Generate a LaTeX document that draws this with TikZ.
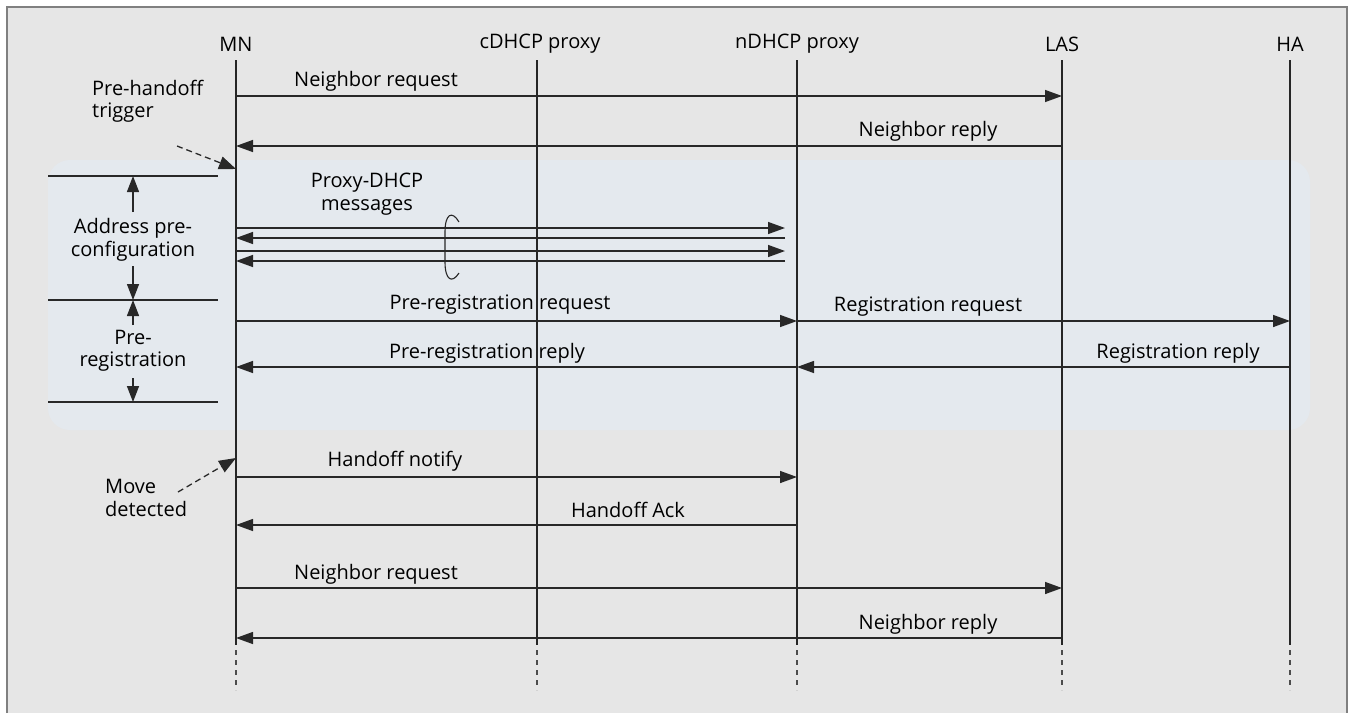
\documentclass[tikz,border=0pt]{standalone}
\usepackage{fontspec}
\setmainfont{Open Sans}
\usetikzlibrary{arrows.meta}
\definecolor{bggray}{RGB}{230,230,230}
\definecolor{shadecol}{RGB}{228,233,238}
\definecolor{framegray}{RGB}{128,128,128}
\definecolor{linegray}{RGB}{40,40,40}
\begin{document}
\begin{tikzpicture}[x=1pt,y=-1pt,
  lbl/.style={font=\fontsize{20}{22.5}\selectfont, inner sep=0pt, text=black},
  lbl2/.style={lbl, align=center},
  life/.style={line width=1.1pt, draw=black!85},
  lifedash/.style={line width=1.1pt, draw=black!70, dash pattern=on 5pt off 5pt},
  tip/.style={-{Triangle[length=17pt,width=12pt]}},
  msg/.style={line width=1.4pt, draw=linegray, tip},
  trig/.style={line width=1.3pt, draw=linegray, dash pattern=on 6pt off 4pt, -{Triangle[length=17pt,width=13pt]}},
  sep/.style={line width=1.1pt, draw=linegray},
  span/.style={line width=1.4pt, draw=linegray, -{Triangle[length=16pt,width=12pt]}}]
\useasboundingbox (0,0) rectangle (1351,713);
\fill[white] (0,0) rectangle (1351,713);
\fill[bggray] (7,7) rectangle (1347,713);
\draw[framegray, line width=1.5pt] (7,713) -- (7,7) -- (1347,7) -- (1347,713);
% shaded region
\fill[shadecol, rounded corners=22pt] (48,160) rectangle (1310,430);
% heads
\node[lbl] (MN) at (236,44) {MN};
\node[lbl] (cD) at (540,44) {cDHCP proxy};
\node[lbl] (nD) at (797,44) {nDHCP proxy};
\node[lbl] (LAS) at (1062,44) {LAS};
\node[lbl] (HA) at (1290,44) {HA};
\coordinate (cDx) at (537,44);
% lifelines
\foreach \n in {MN,cDx,nD,LAS,HA}{
  \draw[life] (\n |- 0,60) -- (\n |- 0,645);
  \draw[lifedash] (\n |- 0,650) -- (\n |- 0,690);
}
% messages
\draw[msg] (MN |- 0,96) -- (LAS |- 0,96);
\node[lbl] (l1) at (376,81) {Neighbor request};
\draw[msg] (LAS |- 0,146) -- (MN |- 0,146);
\node[lbl] (l2) at (928,131) {Neighbor reply};
% proxy dhcp
\node[lbl2] (l3) at (367,194) {Proxy-DHCP\\messages};
\coordinate (px) at (785,0);
\draw[msg] (MN |- 0,228) -- (px |- 0,228);
\draw[msg] (px |- 0,238) -- (MN |- 0,238);
\draw[msg] (MN |- 0,251) -- (px |- 0,251);
\draw[msg] (px |- 0,261) -- (MN |- 0,261);
\draw[line width=1.1pt, linegray] (459,222) .. controls (452,210) and (445,214) .. (445,232) -- (445,262) .. controls (445,280) and (452,284) .. (459,273);
% registration
\draw[msg] (MN |- 0,321) -- (nD |- 0,321);
\node[lbl] (l4) at (500,305) {Pre-registration request};
\draw[msg] (nD |- 0,321) -- (HA |- 0,321);
\node[lbl] (l5) at (928,307) {Registration request};
\draw[msg] (HA |- 0,367) -- (nD |- 0,367);
\node[lbl] (l6) at (1178,353) {Registration reply};
\draw[msg] (nD |- 0,367) -- (MN |- 0,367);
\node[lbl] (l7) at (487,353) {Pre-registration reply};
% handoff
\draw[msg] (MN |- 0,477) -- (nD |- 0,477);
\node[lbl] (l8) at (395,461) {Handoff notify};
\draw[msg] (nD |- 0,525) -- (MN |- 0,525);
\node[lbl] (l9) at (628,510) {Handoff Ack};
\draw[msg] (MN |- 0,588) -- (LAS |- 0,588);
\node[lbl] (l10) at (376,574) {Neighbor request};
\draw[msg] (LAS |- 0,638) -- (MN |- 0,638);
\node[lbl] (l11) at (928,624) {Neighbor reply};
% triggers
\node[lbl, align=left, anchor=west] (pt) at (92,101) {Pre-handoff\\trigger};
\coordinate (ptA) at (177,146);
\draw[trig] (ptA) -- (MN |- 0,169);
\node[lbl, align=left, anchor=west] (md) at (105,498) {Move\\detected};
\coordinate (mdA) at (178,492);
\draw[trig] (mdA) -- (MN |- 0,458);
% left phases
\draw[sep] (48,176) -- (218,176);
\draw[sep] (48,300) -- (218,300);
\draw[sep] (48,402) -- (218,402);
\node[lbl2] (apc) at (133,240) {Address pre-\\configuration};
\node[lbl2] (prg) at (133,351) {Pre-\\registration};
\draw[span] (apc.north |- 0,212) -- (133,176);
\draw[span] (apc.south |- 0,266) -- (133,300);
\draw[span] (prg.north |- 0,325) -- (133,300);
\draw[span] (prg.south |- 0,378) -- (133,402);
\end{tikzpicture}
\end{document}
